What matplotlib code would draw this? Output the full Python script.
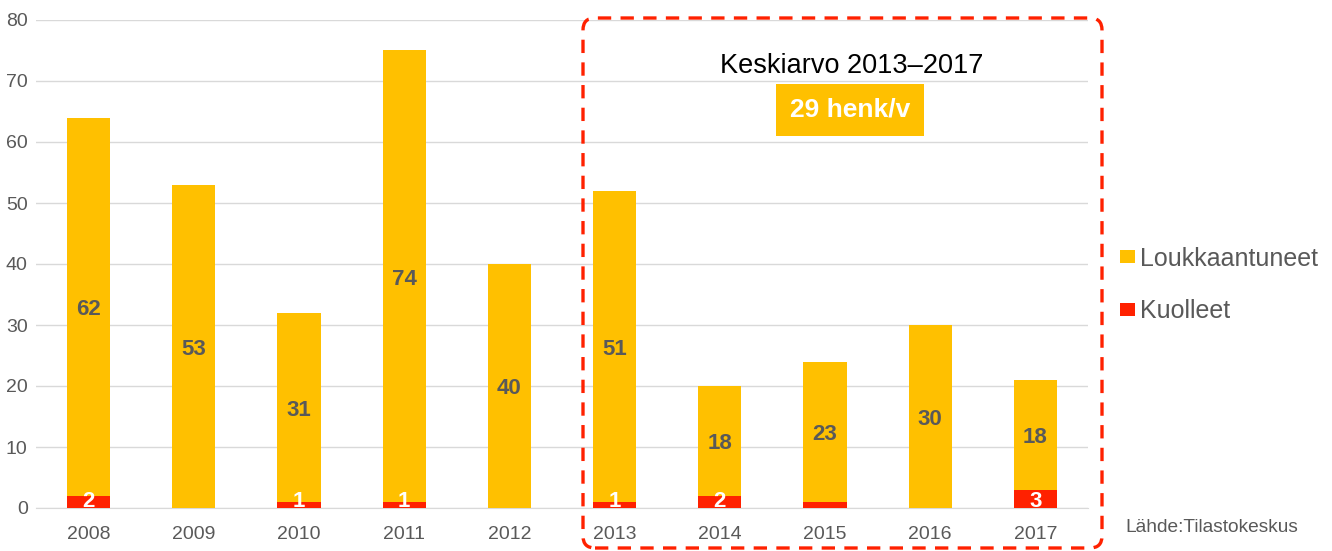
import numpy as np
import matplotlib.pyplot as plt
from matplotlib.patches import FancyBboxPatch
from matplotlib.transforms import IdentityTransform, offset_copy

plt.rcParams['font.family'] = ['Liberation Sans', 'DejaVu Sans']

vuodet = ['2008', '2009', '2010', '2011', '2012', '2013', '2014', '2015', '2016', '2017']
kuolleet = [2, 0, 1, 1, 0, 1, 2, 1, 0, 3]
loukkaantuneet = [62, 53, 31, 74, 40, 51, 18, 23, 30, 18]
kuolleet_tekstit = ['2', '', '1', '1', '', '1', '2', '', '', '3']

keltainen = '#FFC000'
punainen = '#FF2100'
harmaa = '#595959'

fig = plt.figure(figsize=(13.32, 5.51), dpi=100)
ax = fig.add_axes([36/1332, 43/551, 1052/1332, 488/551])

x = np.arange(len(vuodet))
w = 0.41
b1 = ax.bar(x, kuolleet, w, color=punainen, label='Kuolleet', zorder=3)
b2 = ax.bar(x, loukkaantuneet, w, bottom=kuolleet, color=keltainen, label='Loukkaantuneet', zorder=3)

alas = offset_copy(ax.transData, fig=fig, x=0, y=-3, units='dots')
for i in range(len(x)):
    ax.text(x[i], kuolleet[i] + loukkaantuneet[i] / 2, str(loukkaantuneet[i]), ha='center', va='center',
            fontsize=16, fontweight='bold', color=harmaa, zorder=4, transform=alas)
    if kuolleet_tekstit[i]:
        ax.text(x[i], 0.15, kuolleet_tekstit[i], ha='center', va='baseline',
                fontsize=16, fontweight='bold', color='white', zorder=4)

ax.set_xlim(-0.5, 9.5)
ax.set_ylim(0, 80)
ax.set_yticks(range(0, 81, 10))
ax.set_xticks(x)
ax.set_xticklabels(vuodet)
ax.yaxis.grid(True, color='#D9D9D9', linewidth=1, zorder=0)
ax.tick_params(length=0, labelsize=14, colors=harmaa)
ax.tick_params(axis='x', pad=13)
ax.tick_params(axis='y', pad=6)
for s in ['top', 'right', 'left']:
    ax.spines[s].set_visible(False)
ax.spines['bottom'].set_color('#D9D9D9')

# keskiarvolaatikko
laatikko = FancyBboxPatch((583, 3), 519, 530, boxstyle='round,pad=0,rounding_size=12',
                          transform=IdentityTransform(), fill=False, edgecolor=punainen,
                          linewidth=2.4, linestyle=(0, (4, 2.8)), zorder=5)
fig.patches.append(laatikko)
fig.text(852/1332, 1 - 66/551, 'Keskiarvo 2013\u20132017', ha='center', va='center', fontsize=19.5, color='black')
fig.text(850/1332, 1 - 110/551, '29 henk/v', ha='center', va='center', fontsize=19, fontweight='bold',
         color='white', bbox=dict(boxstyle='square,pad=0.52', facecolor=keltainen, edgecolor='none'))

h, l = ax.get_legend_handles_labels()
fig.legend(h[::-1], l[::-1], loc='center left', bbox_to_anchor=(1120/1332, 1 - 285/551), frameon=False,
           fontsize=18, labelcolor=harmaa, handlelength=0.6, handleheight=0.4, handletextpad=0.2,
           labelspacing=1.15, borderpad=0, borderaxespad=0)

fig.text(1125/1332, 1 - 527/551, 'L\u00e4hde:Tilastokeskus', ha='left', va='center', fontsize=13.8, color=harmaa)

fig.savefig('out.png', dpi=100)
